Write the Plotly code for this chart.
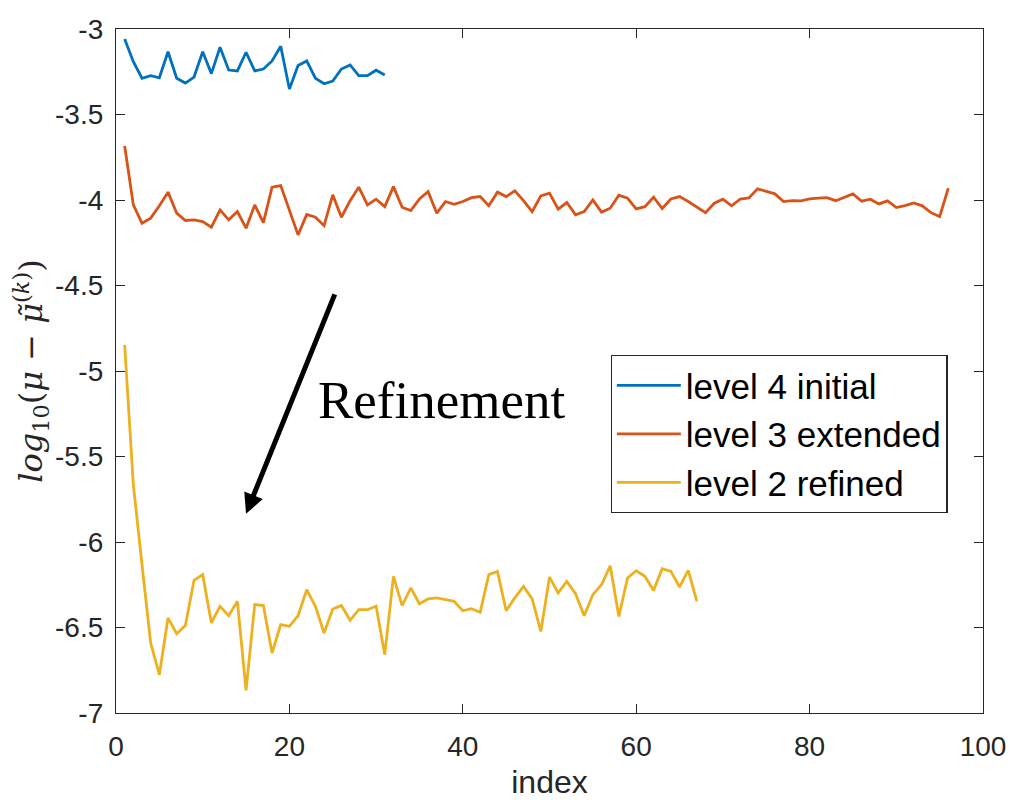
import plotly.graph_objects as go

# okunan veriler (log10 hata degerleri)
level4_initial = [
    -3.058, -3.191, -3.288, -3.273, -3.285, -3.133, -3.288, -3.316, -3.281, -3.133,
    -3.261, -3.107, -3.240, -3.245, -3.136, -3.245, -3.234, -3.187, -3.101, -3.351,
    -3.214, -3.187, -3.288, -3.320, -3.304, -3.234, -3.210, -3.273, -3.273, -3.241,
    -3.269,
]

level3_extended = [
    -3.684, -4.029, -4.136, -4.106, -4.034, -3.954, -4.077, -4.120, -4.116, -4.126,
    -4.159, -4.058, -4.116, -4.068, -4.165, -4.029, -4.132, -3.925, -3.916, -4.058,
    -4.204, -4.085, -4.101, -4.150, -3.970, -4.101, -4.004, -3.925, -4.029, -3.995,
    -4.039, -3.922, -4.042, -4.062, -3.994, -3.951, -4.077, -4.009, -4.025, -4.009,
    -3.986, -3.980, -4.033, -3.954, -3.980, -3.947, -4.004, -4.068, -3.976, -3.960,
    -4.054, -4.015, -4.087, -4.068, -3.999, -4.071, -4.048, -3.972, -3.989, -4.052,
    -4.039, -3.984, -4.050, -3.994, -3.980, -4.009, -4.042, -4.074, -4.019, -3.995,
    -4.034, -3.995, -3.988, -3.935, -3.949, -3.964, -4.009, -4.004, -4.005, -3.994,
    -3.989, -3.986, -4.004, -3.984, -3.964, -4.007, -3.995, -4.023, -4.005, -4.044,
    -4.033, -4.017, -4.034, -4.074, -4.097, -3.931,
]

level2_refined = [
    -4.847, -5.665, -6.133, -6.590, -6.776, -6.444, -6.536, -6.489, -6.224, -6.191,
    -6.473, -6.376, -6.431, -6.347, -6.867, -6.366, -6.372, -6.649, -6.483, -6.493,
    -6.431, -6.279, -6.376, -6.532, -6.392, -6.372, -6.458, -6.396, -6.396, -6.376,
    -6.659, -6.201, -6.372, -6.269, -6.361, -6.333, -6.327, -6.337, -6.347, -6.402,
    -6.390, -6.411, -6.191, -6.172, -6.402, -6.327, -6.259, -6.333, -6.523, -6.205,
    -6.298, -6.230, -6.302, -6.431, -6.308, -6.250, -6.139, -6.435, -6.210, -6.168,
    -6.201, -6.283, -6.156, -6.172, -6.263, -6.166, -6.347,
]

series_names = ["level 4 initial", "level 3 extended", "level 2 refined"]
series_colors = ["#0072BD", "#D95319", "#EDB120"]

x_ticks = [0, 20, 40, 60, 80, 100]
y_ticks = [-3, -3.5, -4, -4.5, -5, -5.5, -6, -6.5, -7]
y_tick_labels = ["-3", "-3.5", "-4", "-4.5", "-5", "-5.5", "-6", "-6.5", "-7"]

AXIS_COLOR = "#262626"


def axis_style():
    return dict(
        showline=True, linecolor=AXIS_COLOR, linewidth=1.3, mirror="allticks",
        ticks="inside", ticklen=9, tickcolor=AXIS_COLOR, tickwidth=1.2,
        showgrid=False, zeroline=False, automargin=False,
        tickfont=dict(family="Liberation Sans", size=28, color=AXIS_COLOR),
    )


fig = go.Figure()
for name, values, color in zip(series_names,
                               [level4_initial, level3_extended, level2_refined],
                               series_colors):
    fig.add_trace(go.Scatter(
        x=list(range(1, len(values) + 1)),
        y=values,
        mode="lines",
        name=name,
        line=dict(color=color, width=2.8),
    ))

fig.update_xaxes(
    **axis_style(),
    range=[0, 100], tickvals=x_ticks, ticklabelstandoff=8,
    title=dict(text="index", standoff=9,
               font=dict(family="Liberation Sans", size=32, color=AXIS_COLOR)),
)
fig.update_yaxes(
    **axis_style(),
    range=[-7, -3], tickvals=y_ticks, ticktext=y_tick_labels, ticklabelstandoff=6,
    title=dict(
        text="<i>log</i><sub>10</sub>(<i>μ</i> − <i>μ̃</i><sup>(<i>k</i>)</sup>)",
        standoff=8,
        font=dict(family="DejaVu Serif", size=32, color=AXIS_COLOR),
    ),
)

# ok ve "Refinement" yazisi
fig.add_annotation(
    x=15.0, y=-5.835, ax=25.3, ay=-4.543, xref="x", yref="y", axref="x", ayref="y",
    text="", showarrow=True, arrowhead=2, arrowsize=0.8, arrowwidth=5, arrowcolor="black",
)
fig.add_annotation(
    x=37.55, y=-5.17, xref="x", yref="y", text="Refinement", showarrow=False,
    xanchor="center", yanchor="middle",
    font=dict(family="Liberation Serif", size=53, color="black"),
)

# sayfa govdesi 8px kaydirdigi icin kenar bosluklari buna gore
fig.update_layout(
    width=1015, height=800,
    margin=dict(l=108, r=40, t=21, b=95),
    plot_bgcolor="white", paper_bgcolor="white",
    legend=dict(
        x=0.5705, y=0.5236, xanchor="left", yanchor="top",
        bordercolor=AXIS_COLOR, borderwidth=1.2, bgcolor="white",
        font=dict(family="Liberation Sans", size=35, color="black"),
        itemwidth=64, tracegroupgap=0,
    ),
)

fig.write_html("out.html")
